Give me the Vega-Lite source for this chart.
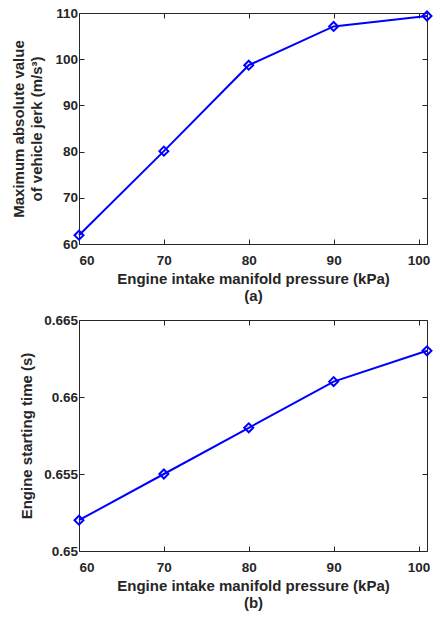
{
  "$schema": "https://vega.github.io/schema/vega-lite/v6.json",
  "padding": {"left": 11, "top": 6, "right": 2, "bottom": 2},
  "spacing": 9,
  "config": {
    "view": {"stroke": null},
    "font": "Liberation Sans",
    "axis": {
      "domainColor": "#262626",
      "tickColor": "#262626",
      "labelColor": "#262626",
      "titleColor": "#262626",
      "labelFont": "Liberation Sans",
      "titleFont": "Liberation Sans",
      "labelFontSize": 13.5,
      "labelFontWeight": "bold",
      "titleFontSize": 15,
      "titleFontWeight": "bold",
      "grid": false,
      "tickSize": -5,
      "domainWidth": 1,
      "tickWidth": 1
    }
  },
  "vconcat": [
    {
      "width": 348,
      "height": 231,
      "data": {"values": [
        {"p": 60, "v": 61.9},
        {"p": 70, "v": 80.1},
        {"p": 80, "v": 98.7},
        {"p": 90, "v": 107.1},
        {"p": 101, "v": 109.35}
      ]},
      "resolve": {"axis": {"x": "independent", "y": "independent"}},
      "layer": [
        {
          "mark": {"type": "line", "color": "#0000ff", "strokeWidth": 2},
          "encoding": {
            "x": {"field": "p", "type": "quantitative", "scale": {"domain": [60, 101], "nice": false, "zero": false},
                  "axis": {"orient": "bottom", "values": [60, 70, 80, 90, 100], "labelPadding": 14, "titlePadding": 5, "titleLineHeight": 17,
                           "title": ["Engine intake manifold pressure (kPa)", "(a)"]}},
            "y": {"field": "v", "type": "quantitative", "scale": {"domain": [60, 110], "nice": false, "zero": false},
                  "axis": {"orient": "left", "values": [60, 70, 80, 90, 100, 110], "labelPadding": 6.5, "titlePadding": 10, "titleLineHeight": 18,
                           "title": ["Maximum absolute value", "of vehicle jerk (m/s³)"]}}
          }
        },
        {
          "mark": {"type": "point", "shape": "diamond", "filled": false, "color": "#0000ff", "strokeWidth": 2, "size": 80, "opacity": 1},
          "encoding": {
            "x": {"field": "p", "type": "quantitative", "axis": null},
            "y": {"field": "v", "type": "quantitative", "axis": null}
          }
        },
        {
          "mark": {"type": "point", "opacity": 0},
          "encoding": {
            "x": {"field": "p", "type": "quantitative", "axis": {"orient": "top", "values": [60, 70, 80, 90, 100], "labels": false, "title": null}},
            "y": {"field": "v", "type": "quantitative", "axis": {"orient": "right", "values": [60, 70, 80, 90, 100, 110], "labels": false, "title": null}}
          }
        }
      ]
    },
    {
      "width": 348,
      "height": 231,
      "data": {"values": [
        {"p": 60, "t": 0.652},
        {"p": 70, "t": 0.655},
        {"p": 80, "t": 0.658},
        {"p": 90, "t": 0.661},
        {"p": 101, "t": 0.663}
      ]},
      "resolve": {"axis": {"x": "independent", "y": "independent"}},
      "layer": [
        {
          "mark": {"type": "line", "color": "#0000ff", "strokeWidth": 2},
          "encoding": {
            "x": {"field": "p", "type": "quantitative", "scale": {"domain": [60, 101], "nice": false, "zero": false},
                  "axis": {"orient": "bottom", "values": [60, 70, 80, 90, 100], "labelPadding": 14, "titlePadding": 5, "titleLineHeight": 17,
                           "title": ["Engine intake manifold pressure (kPa)", "(b)"]}},
            "y": {"field": "t", "type": "quantitative", "scale": {"domain": [0.65, 0.665], "nice": false, "zero": false},
                  "axis": {"orient": "left", "values": [0.65, 0.655, 0.66, 0.665], "format": "~g", "labelPadding": 6.5, "titlePadding": 9,
                           "title": "Engine starting time (s)"}}
          }
        },
        {
          "mark": {"type": "point", "shape": "diamond", "filled": false, "color": "#0000ff", "strokeWidth": 2, "size": 80, "opacity": 1},
          "encoding": {
            "x": {"field": "p", "type": "quantitative", "axis": null},
            "y": {"field": "t", "type": "quantitative", "axis": null}
          }
        },
        {
          "mark": {"type": "point", "opacity": 0},
          "encoding": {
            "x": {"field": "p", "type": "quantitative", "axis": {"orient": "top", "values": [60, 70, 80, 90, 100], "labels": false, "title": null}},
            "y": {"field": "t", "type": "quantitative", "axis": {"orient": "right", "values": [0.65, 0.655, 0.66, 0.665], "labels": false, "title": null}}
          }
        }
      ]
    }
  ]
}
